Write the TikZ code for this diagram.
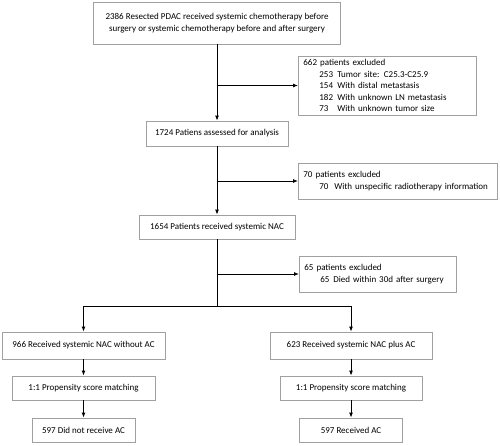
\documentclass[tikz,border=0pt]{standalone}
\usepackage{fontspec}
\setmainfont{Carlito}
\usepackage{tikz}
\usetikzlibrary{arrows.meta}
\definecolor{boxgray}{RGB}{160,160,160}
\tikzset{
  box/.style={draw=boxgray, line width=0.8pt, inner sep=0pt, align=center,
    font=\fontsize{9}{11.5}\selectfont},
  exbox/.style={box, align=left, inner xsep=5pt, anchor=west},
  arr/.style={-{Latex[length=5pt,width=4pt]}, line width=0.9pt},
  link/.style={line width=0.9pt}
}
\newcommand{\exitem}[3][18pt]{\hspace*{16pt}\makebox[#1][l]{#2}#3}

\begin{document}
\begin{tikzpicture}[x=1pt, y=-1pt]
  \useasboundingbox (0,0) rectangle (500,446);

  % main column
  \node[box, minimum width=247pt, minimum height=42pt] (start) at (217,23)
    {2386 Resected PDAC received systemic chemotherapy before\\
     surgery or systemic chemotherapy before and after surgery};
  \node[box, minimum width=142pt, minimum height=25pt] (assess) at (217,133.5)
    {1724 Patiens assessed for analysis};
  \node[box, minimum width=156pt, minimum height=24pt] (nac) at (217,227)
    {1654 Patients received systemic NAC};

  % exclusions
  \node[exbox, minimum width=178pt, minimum height=59pt, text width=168pt] (exA) at (298,85.5)
    {662 patients excluded\\
     \exitem{253}{Tumor site: C25.3-C25.9}\\
     \exitem{154}{With distal metastasis}\\
     \exitem{182}{With unknown LN metastasis}\\
     \exitem{73}{With unknown tumor size}};
  \node[exbox, minimum width=199pt, minimum height=36pt, text width=189pt] (exB) at (298,181)
    {70 patients excluded\\
     \exitem[15pt]{70}{With unspecific radiotherapy information}};
  \node[exbox, minimum width=157pt, minimum height=36pt, text width=147pt] (exC) at (299,274)
    {65 patients excluded\\
     \exitem[13pt]{65}{Died within 30d after surgery}};

  % two arms
  \coordinate (split) at (217,306);
  \node[box, minimum width=163pt, minimum height=27pt] (noAC) at (83.5,345.5)
    {966 Received systemic NAC without AC};
  \node[box, minimum width=162pt, minimum height=27pt] (plusAC) at (351,345.5)
    {623 Received systemic NAC plus AC};
  \node[box, minimum width=143pt, minimum height=24pt] (psmL) at (83.5,388)
    {1:1 Propensity score matching};
  \node[box, minimum width=142pt, minimum height=24pt] (psmR) at (351,388)
    {1:1 Propensity score matching};
  \node[box, minimum width=103pt, minimum height=24pt] (endL) at (83.5,430)
    {597 Did not receive AC};
  \node[box, minimum width=103pt, minimum height=24pt] (endR) at (351,430)
    {597 Received AC};

  % connectors
  \draw[arr] (start) -- (assess);
  \draw[arr] (start |- exA.west) -- (exA);
  \draw[arr] (assess) -- (nac);
  \draw[arr] (assess |- exB.west) -- (exB);
  \draw[link] (nac) -- (split);
  \draw[arr] (nac |- exC.west) -- (exC);
  \draw[arr] (split) -| (noAC);
  \draw[arr] (split) -| (plusAC);
  \draw[arr] (noAC) -- (psmL);
  \draw[arr] (psmL) -- (endL);
  \draw[arr] (plusAC) -- (psmR);
  \draw[arr] (psmR) -- (endR);
\end{tikzpicture}
\end{document}
